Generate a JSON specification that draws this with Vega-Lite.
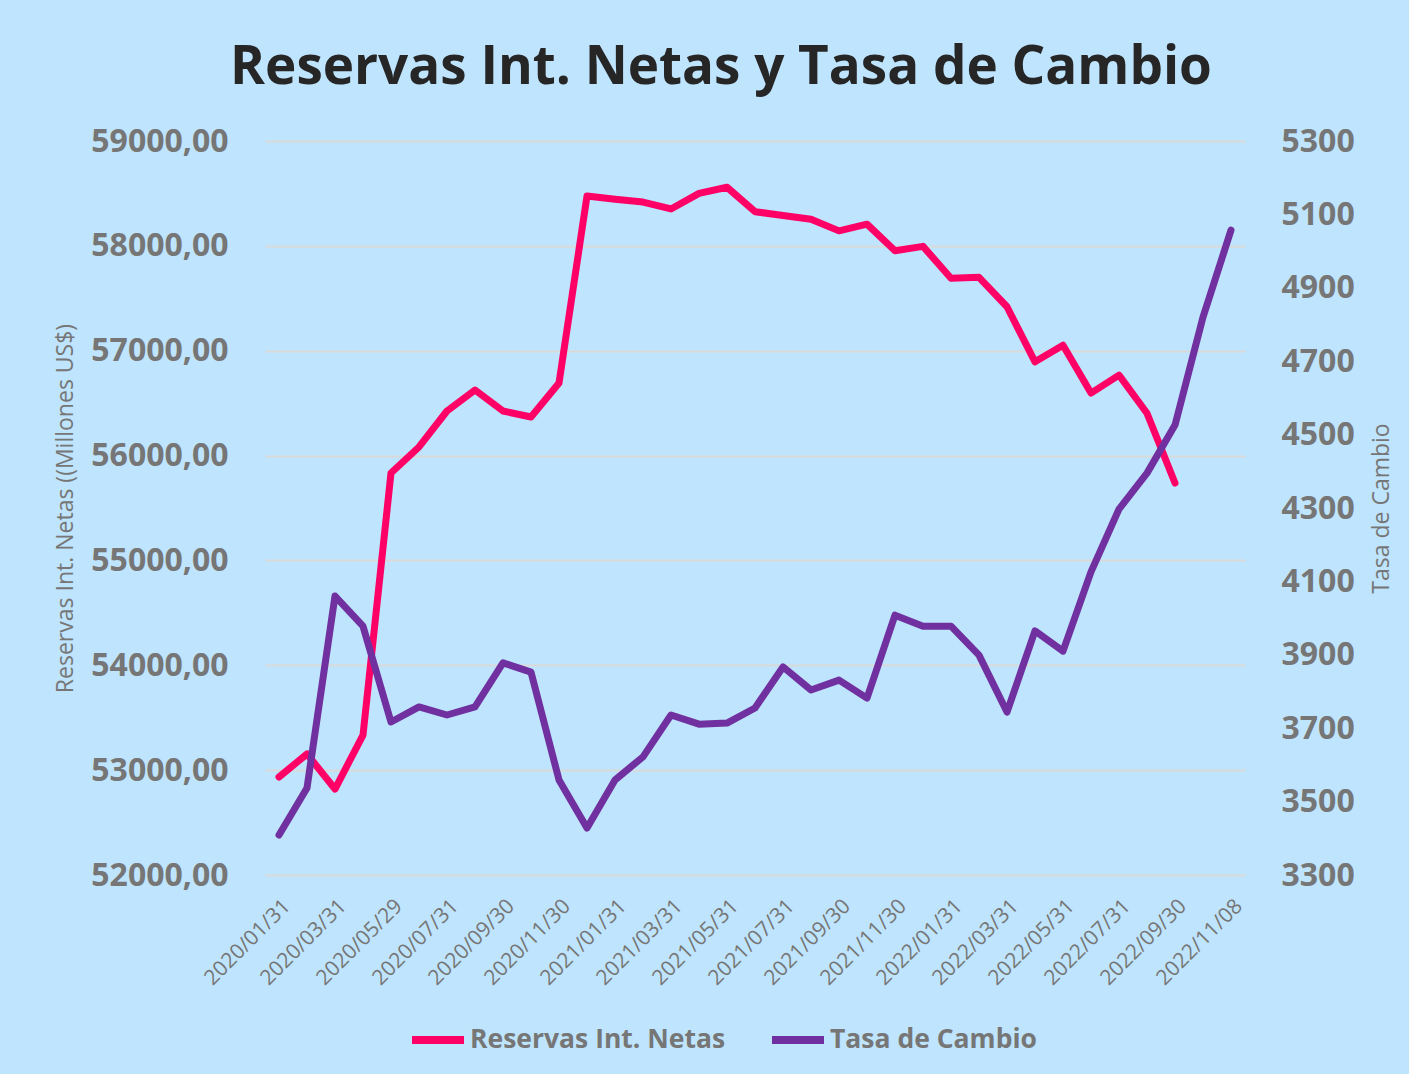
{
  "$schema": "https://vega.github.io/schema/vega-lite/v6.json",
  "width": 980,
  "height": 734,
  "autosize": {"type": "none"},
  "padding": {"left": 265, "top": 141, "right": 164, "bottom": 199},
  "title": {
    "text": "Reservas Int. Netas y Tasa de Cambio",
    "fontSize": 53,
    "font": "Open Sans",
    "fontWeight": "bold",
    "color": "#262626",
    "anchor": "middle",
    "dx": -34,
    "offset": 30
  },
  "data": {
    "values": [
      {"fecha": "2020/01/31", "reservas": 52935, "tasa": 3409},
      {"fecha": "2020/02/29", "reservas": 53154, "tasa": 3537},
      {"fecha": "2020/03/31", "reservas": 52820, "tasa": 4060},
      {"fecha": "2020/04/30", "reservas": 53335, "tasa": 3978},
      {"fecha": "2020/05/29", "reservas": 55834, "tasa": 3717},
      {"fecha": "2020/06/30", "reservas": 56082, "tasa": 3758},
      {"fecha": "2020/07/31", "reservas": 56425, "tasa": 3736},
      {"fecha": "2020/08/31", "reservas": 56625, "tasa": 3758},
      {"fecha": "2020/09/30", "reservas": 56425, "tasa": 3878},
      {"fecha": "2020/10/30", "reservas": 56368, "tasa": 3853},
      {"fecha": "2020/11/30", "reservas": 56692, "tasa": 3559},
      {"fecha": "2020/12/31", "reservas": 58475, "tasa": 3428},
      {"fecha": "2021/01/31", "reservas": 58445, "tasa": 3559},
      {"fecha": "2021/02/28", "reservas": 58418, "tasa": 3622},
      {"fecha": "2021/03/31", "reservas": 58352, "tasa": 3736},
      {"fecha": "2021/04/30", "reservas": 58500, "tasa": 3711},
      {"fecha": "2021/05/31", "reservas": 58559, "tasa": 3714},
      {"fecha": "2021/06/30", "reservas": 58326, "tasa": 3755},
      {"fecha": "2021/07/31", "reservas": 58290, "tasa": 3867},
      {"fecha": "2021/08/31", "reservas": 58254, "tasa": 3804},
      {"fecha": "2021/09/30", "reservas": 58143, "tasa": 3831},
      {"fecha": "2021/10/31", "reservas": 58207, "tasa": 3782},
      {"fecha": "2021/11/30", "reservas": 57953, "tasa": 4008},
      {"fecha": "2021/12/31", "reservas": 57995, "tasa": 3978},
      {"fecha": "2022/01/31", "reservas": 57691, "tasa": 3978},
      {"fecha": "2022/02/28", "reservas": 57700, "tasa": 3899},
      {"fecha": "2022/03/31", "reservas": 57419, "tasa": 3744},
      {"fecha": "2022/04/30", "reservas": 56894, "tasa": 3965},
      {"fecha": "2022/05/31", "reservas": 57052, "tasa": 3910},
      {"fecha": "2022/06/30", "reservas": 56596, "tasa": 4126},
      {"fecha": "2022/07/31", "reservas": 56767, "tasa": 4297},
      {"fecha": "2022/08/31", "reservas": 56404, "tasa": 4395},
      {"fecha": "2022/09/30", "reservas": 55738, "tasa": 4526},
      {"fecha": "2022/10/31", "reservas": null, "tasa": 4820},
      {"fecha": "2022/11/08", "reservas": null, "tasa": 5057}
    ]
  },
  "encoding": {
    "x": {
      "field": "fecha",
      "type": "ordinal",
      "sort": null,
      "scale": {"type": "point", "padding": 0.5},
      "axis": {
        "values": ["2020/01/31", "2020/03/31", "2020/05/29", "2020/07/31", "2020/09/30", "2020/11/30", "2021/01/31", "2021/03/31", "2021/05/31", "2021/07/31", "2021/09/30", "2021/11/30", "2022/01/31", "2022/03/31", "2022/05/31", "2022/07/31", "2022/09/30", "2022/11/08"],
        "labelAngle": -45,
        "labelFontSize": 21,
        "labelFont": "Open Sans",
        "labelColor": "#767676",
        "ticks": false,
        "domain": false,
        "grid": false,
        "title": null,
        "labelPadding": 20
      }
    }
  },
  "layer": [
    {
      "mark": {"type": "line", "strokeWidth": 7, "strokeCap": "round", "strokeJoin": "round"},
      "encoding": {
        "y": {
          "field": "reservas",
          "type": "quantitative",
          "scale": {"domain": [52000, 59000], "nice": false, "zero": false},
          "axis": {
            "orient": "left",
            "values": [52000, 53000, 54000, 55000, 56000, 57000, 58000, 59000],
            "labelExpr": "replace(format(datum.value, '.2f'), '.', ',')",
            "labelFontSize": 32,
            "labelFontWeight": "bold",
            "labelFont": "Open Sans",
            "labelColor": "#767676",
            "labelPadding": 37,
            "ticks": false,
            "domain": false,
            "grid": true,
            "gridColor": "#D9D9D9",
            "gridWidth": 2,
            "title": "Reservas Int. Netas ((Millones US$)",
            "titleFont": "Open Sans",
            "titleFontSize": 23,
            "titleFontWeight": "normal",
            "titleColor": "#767676",
            "titlePadding": 13
          }
        },
        "color": {
          "datum": "Reservas Int. Netas",
          "type": "nominal",
          "scale": {"domain": ["Reservas Int. Netas", "Tasa de Cambio"], "range": ["#FF0066", "#7030A0"]},
          "legend": {
            "orient": "none",
            "legendX": 143,
            "legendY": 869,
            "direction": "horizontal",
            "title": null,
            "labelFont": "Open Sans",
            "labelFontSize": 26.5,
            "labelFontWeight": "bold",
            "labelColor": "#767676",
            "labelLimit": 0,
            "symbolType": "stroke",
            "symbolSize": 2704,
            "symbolStrokeWidth": 8,
            "columnPadding": 30,
            "labelOffset": 2
          }
        }
      }
    },
    {
      "mark": {"type": "line", "strokeWidth": 7, "strokeCap": "round", "strokeJoin": "round"},
      "encoding": {
        "y": {
          "field": "tasa",
          "type": "quantitative",
          "scale": {"domain": [3300, 5300], "nice": false, "zero": false},
          "axis": {
            "orient": "right",
            "values": [3300, 3500, 3700, 3900, 4100, 4300, 4500, 4700, 4900, 5100, 5300],
            "format": "d",
            "labelFontSize": 32,
            "labelFontWeight": "bold",
            "labelFont": "Open Sans",
            "labelColor": "#767676",
            "labelPadding": 36,
            "ticks": false,
            "domain": false,
            "grid": false,
            "title": "Tasa de Cambio",
            "titleAngle": -90,
            "titleBaseline": "top",
            "titleFont": "Open Sans",
            "titleFontSize": 23,
            "titleFontWeight": "normal",
            "titleColor": "#767676",
            "titlePadding": 16
          }
        },
        "color": {"datum": "Tasa de Cambio", "type": "nominal"}
      }
    }
  ],
  "resolve": {"scale": {"y": "independent"}},
  "config": {
    "background": "#BFE4FD",
    "view": {"stroke": null},
    "font": "Open Sans"
  }
}
